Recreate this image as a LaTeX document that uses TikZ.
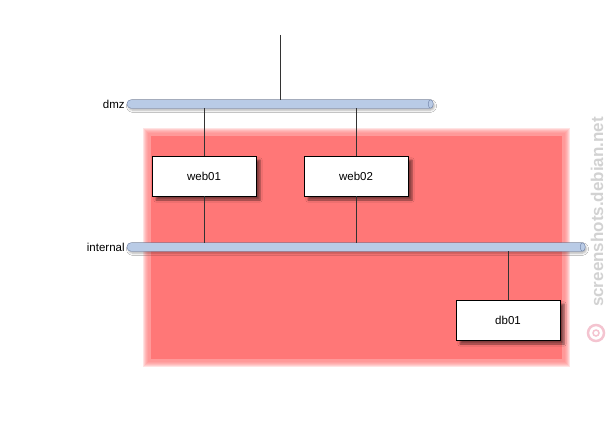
\documentclass[tikz,border=0pt]{standalone}
\usepackage{fontspec}
\setmainfont{Liberation Sans}
\usepackage{tikz}
\usetikzlibrary{calc,positioning,shadows.blur}
\definecolor{zonered}{HTML}{FF7777}
\definecolor{busfill}{HTML}{B9CBE6}
\definecolor{busedge}{HTML}{6E80A6}
\definecolor{markgray}{HTML}{D2D2D2}
\definecolor{markpink}{HTML}{F4C4D0}
\tikzset{
  bus/.style={draw=busedge,fill=busfill,rounded corners=4pt,minimum height=8.5pt,inner sep=0pt,
    blur shadow={shadow xshift=1.5pt,shadow yshift=-2pt,shadow blur steps=4,shadow opacity=30}},
  host/.style={draw=black,fill=white,minimum width=104pt,minimum height=40pt,inner sep=0pt,
    font=\fontsize{11.5}{13}\selectfont,
    blur shadow={shadow xshift=4pt,shadow yshift=-4pt,shadow blur steps=5,shadow opacity=50}},
  lbl/.style={font=\fontsize{11.5}{13}\selectfont,inner sep=1pt},
  wire/.style={draw=black!80,line width=0.6pt}
}
\begin{document}
\begin{tikzpicture}[x=1pt,y=-1pt]
\useasboundingbox[fill=white] (0,0) rectangle (608,444);
% zone, soft edge
\foreach \g in {5,4,3,2,1,0}
  \fill[zonered,opacity=0.2] (148-\g,133-\g) rectangle (565+\g,362+\g);
\fill[zonered] (151,136) rectangle (562,359);
% networks
\node[bus,minimum width=306pt] (dmz) at (280,104) {};
\node[bus,minimum width=458pt] (internal) at (356,247) {};
\draw[busedge,fill=busfill] ($(dmz.east)+(-2.5,0)$) ellipse (2.5 and 4.25);
\draw[busedge,fill=busfill] ($(internal.east)+(-2.5,0)$) ellipse (2.5 and 4.25);
\node[lbl,left=1pt of dmz] {dmz};
\node[lbl,left=1pt of internal] {internal};
% hosts
\node[host] (web01) at (204,176) {web01};
\node[host] (web02) at (356,176) {web02};
\node[host] (db01) at (508,320) {db01};
% links
\coordinate (uplink) at (280,35);
\draw[wire] (uplink) -- (dmz.north);
\draw[wire] (web01.north) -- (web01.north |- dmz.south);
\draw[wire] (web02.north) -- (web02.north |- dmz.south);
\draw[wire] (web01.south) -- (web01.south |- internal.north);
\draw[wire] (web02.south) -- (web02.south |- internal.north);
\draw[wire] (db01.north) -- (db01.north |- internal.south);
% watermark
\node[rotate=90,text=markgray,font=\bfseries\fontsize{17}{19}\selectfont] (mark) at (597,212) {screenshots.debian.net};
\draw[markpink,line width=2.5pt] (596,333) circle (8);
\draw[markpink,line width=1.5pt] (596,333) circle (3);
\end{tikzpicture}
\end{document}
